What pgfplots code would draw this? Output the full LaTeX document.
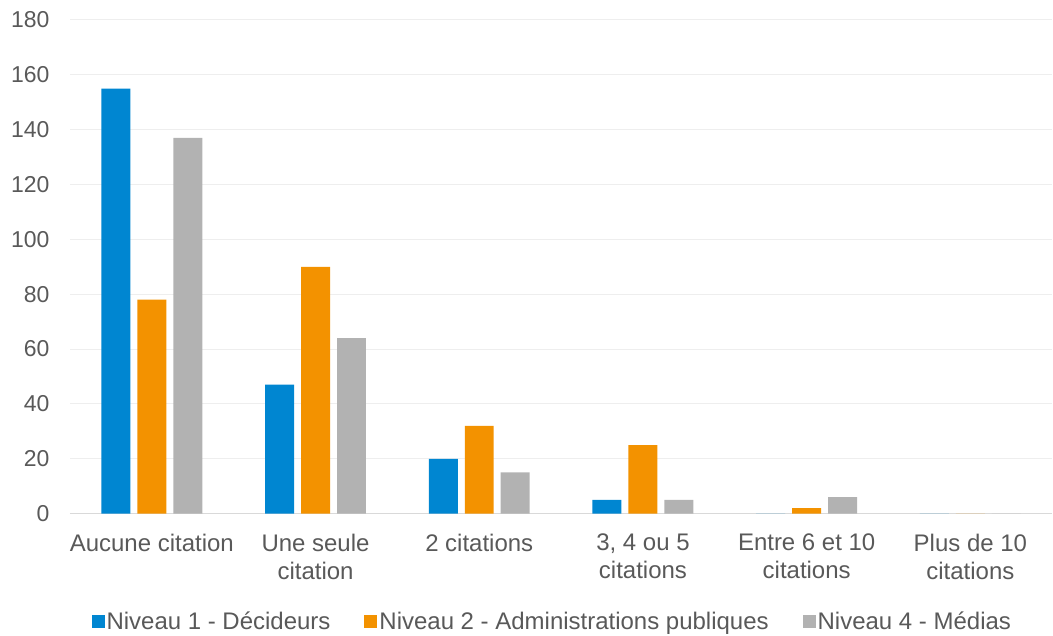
\documentclass[border=0pt]{standalone}
\usepackage{fontspec}
\setmainfont{Liberation Sans}
\usepackage{pgfplots}
\pgfplotsset{compat=1.18}
\definecolor{nblue}{RGB}{0,134,209}
\definecolor{norange}{RGB}{243,146,0}
\definecolor{ngray}{RGB}{178,178,178}
\definecolor{txt}{RGB}{89,89,89}
\definecolor{gridc}{RGB}{238,238,238}
\definecolor{axc}{RGB}{217,217,217}
\newcommand{\fs}{\fontsize{24}{28}\selectfont}
\newcommand{\fy}{\fontsize{23}{28}\selectfont}
\begin{document}
\begin{tikzpicture}[x=1pt,y=1pt]
\path (-70,-120) rectangle (983,514);
\begin{axis}[
  at={(0,0)}, anchor=south west,
  scale only axis, width=983pt, height=494pt,
  ybar=7pt, bar width=29pt,
  xmin=-0.5, xmax=5.5, ymin=0, ymax=180,
  ytick={0,20,...,180},
  xtick=data,
  xticklabels={Aucune citation, Une seule\\citation, 2 citations, {3, 4 ou 5\\citations}, Entre 6 et 10\\citations, Plus de 10\\citations},
  xticklabel style={align=center, font=\fs, text=txt, yshift=-17pt},
  yticklabel style={font=\fy, text=txt, xshift=-17pt},
  /pgf/number format/assume math mode=true,
  major tick length=0pt,
  ymajorgrids, grid style={gridc, line width=1pt},
  axis x line*=bottom,
  axis y line*=left,
  y axis line style={draw=none},
  x axis line style={axc, line width=1.5pt, -},
  legend style={at={(0.491,-0.219)}, anchor=center, draw=none, font=\fs, text=txt,
    legend columns=3, /tikz/every even column/.append style={column sep=32pt}},
  legend image code/.code={\fill[#1] (0pt,-6.5pt) rectangle (13pt,6.5pt);},
  legend cell align=left,
]
\addplot[fill=nblue, draw=none] coordinates {(0,155)(1,47)(2,20)(3,5)(4,0)(5,0)};
\addplot[fill=norange, draw=none] coordinates {(0,78)(1,90)(2,32)(3,25)(4,2)(5,0)};
\addplot[fill=ngray, draw=none] coordinates {(0,137)(1,64)(2,15)(3,5)(4,6)(5,0)};
\legend{Niveau 1 - Décideurs, Niveau 2 - Administrations publiques, Niveau 4 - Médias}
\end{axis}
\end{tikzpicture}
\end{document}
